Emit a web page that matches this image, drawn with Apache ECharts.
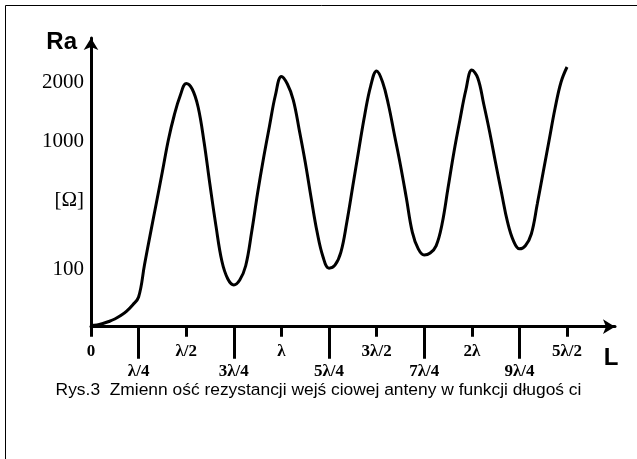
<!DOCTYPE html>
<html>
<head>
<meta charset="utf-8">
<script src="https://cdn.jsdelivr.net/npm/echarts@6/dist/echarts.min.js"></script>
<style>
html,body{margin:0;padding:0;background:#fff;}
#chart{width:637px;height:459px;}
</style>
</head>
<body>
<div id="chart"></div>
<script>
// Antenna length L in units of wavelength (λ), sampled every λ/32
var lengthL = [
  0, 0.03125, 0.0625, 0.09375, 0.125, 0.15625, 0.1875, 0.21875,
  0.25, 0.28125, 0.3125, 0.34375, 0.375, 0.40625, 0.4375, 0.46875,
  0.5, 0.53125, 0.5625, 0.59375, 0.625, 0.65625, 0.6875, 0.71875,
  0.75, 0.78125, 0.8125, 0.84375, 0.875, 0.90625, 0.9375, 0.96875,
  1, 1.03125, 1.0625, 1.09375, 1.125, 1.15625, 1.1875, 1.21875,
  1.25, 1.28125, 1.3125, 1.34375, 1.375, 1.40625, 1.4375, 1.46875,
  1.5, 1.53125, 1.5625, 1.59375, 1.625, 1.65625, 1.6875, 1.71875,
  1.75, 1.78125, 1.8125, 1.84375, 1.875, 1.90625, 1.9375, 1.96875,
  2, 2.03125, 2.0625, 2.09375, 2.125, 2.15625, 2.1875, 2.21875,
  2.25, 2.28125, 2.3125, 2.34375, 2.375, 2.40625, 2.4375, 2.46875,
  2.5];
// Input resistance Ra [Ω]
var resistanceRa = [
  41.3, 41.6, 42.6, 44.0, 45.8, 48.4, 52.0, 57.3,
  65.0, 109, 180, 293, 480, 794, 1182, 1613,
  1953, 1789, 1343, 769, 387, 202, 115, 86.6,
  78.8, 85.3, 107, 183, 341, 596, 992, 1626,
  2184, 1937, 1501, 931, 559, 315, 183, 123,
  103, 108, 133, 215, 381, 677, 1182, 1876,
  2384, 2000, 1386, 860, 533, 315, 183, 140,
  127, 131, 147, 208, 369, 656, 1092, 1761,
  2422, 2132, 1408, 902, 550, 341, 215, 159,
  140, 147, 177.5, 286, 477, 794, 1322, 2000,
  2540];

// Axis labels
var xMajorTicks = [0, 0.5, 1, 1.5, 2, 2.5];
var xMajorLabels = ['0', 'λ/2', 'λ', '3λ/2', '2λ', '5λ/2'];
var xMinorTicks = [0.25, 0.75, 1.25, 1.75, 2.25];
var xMinorLabels = ['λ/4', '3λ/4', '5λ/4', '7λ/4', '9λ/4'];
var yLabelValues = [100, 305, 774, 2000];
var yLabelTexts = ['100', '[Ω]', '1000', '2000'];

var captionText = 'Rys.3  Zmienn ość rezystancji wejś ciowej anteny w funkcji długoś ci';

function lookup(vals, texts, v, rel) {
  for (var i = 0; i < vals.length; i++) {
    var tol = rel ? Math.abs(vals[i]) * 1e-3 : 1e-6;
    if (Math.abs(vals[i] - v) <= tol) return texts[i];
  }
  return '';
}

var data = lengthL.map(function (x, i) { return [x, resistanceRa[i]]; });

var chart = echarts.init(document.getElementById('chart'), null, {renderer: 'canvas'});
var xMax = 2.752;
var option = {
  animation: false,
  backgroundColor: '#ffffff',
  title: {
    text: captionText,
    left: 'center',
    top: 382,
    padding: 0,
    textStyle: {fontFamily: 'Liberation Sans', fontSize: 17.4, fontWeight: 'normal', color: '#000'}
  },
  graphic: [{
    type: 'rect',
    shape: {x: 5.5, y: 5.5, width: 700, height: 500},
    style: {fill: 'none', stroke: '#000', lineWidth: 1},
    silent: true, z: -1
  }],
  grid: {left: 91, right: 22, top: 38, bottom: 132.3, containLabel: false},
  xAxis: [{
    type: 'value', min: 0, max: xMax, position: 'bottom',
    name: 'L', nameLocation: 'end', nameGap: -4,
    nameTextStyle: {fontFamily: 'Liberation Sans', fontWeight: 'bold', fontSize: 24, color: '#000',
      align: 'center', verticalAlign: 'top', padding: [20, 0, 0, 0]},
    axisLine: {show: true, lineStyle: {color: '#000', width: 3}, symbol: ['none', 'arrow'], symbolSize: [11, 12]},
    axisTick: {show: true, customValues: xMajorTicks, length: 10, lineStyle: {color: '#000', width: 3}},
    axisLabel: {show: true, customValues: xMajorTicks, margin: 16,
      fontFamily: 'Liberation Serif', fontWeight: 'bold', fontSize: 17, color: '#000',
      formatter: function (v) { return lookup(xMajorTicks, xMajorLabels, v, false); }},
    splitLine: {show: false}
  }, {
    type: 'value', min: 0, max: xMax, position: 'bottom', gridIndex: 0,
    axisLine: {show: false},
    axisTick: {show: true, customValues: xMinorTicks, length: 32, lineStyle: {color: '#000', width: 3}},
    axisLabel: {show: true, customValues: xMinorTicks, margin: 36,
      fontFamily: 'Liberation Serif', fontWeight: 'bold', fontSize: 17, color: '#000',
      formatter: function (v) { return lookup(xMinorTicks, xMinorLabels, v, false); }},
    splitLine: {show: false}
  }],
  yAxis: {
    type: 'log', logBase: 10, min: 40.5, max: 4033,
    name: 'Ra', nameLocation: 'end', nameGap: -4,
    nameTextStyle: {fontFamily: 'Liberation Sans', fontWeight: 'bold', fontSize: 24, color: '#000',
      align: 'right', verticalAlign: 'middle', padding: [0, 14, 0, 0]},
    axisLine: {show: true, lineStyle: {color: '#000', width: 3}, symbol: ['none', 'arrow'], symbolSize: [11, 12]},
    axisTick: {show: false},
    axisLabel: {show: true, customValues: yLabelValues, margin: 7, padding: [3, 0, 0, 0],
      fontFamily: 'Liberation Serif', fontSize: 21, color: '#000',
      formatter: function (v) { return lookup(yLabelValues, yLabelTexts, v, true); }},
    splitLine: {show: false}
  },
  series: [{
    type: 'line',
    xAxisIndex: 0, yAxisIndex: 0,
    data: data,
    smooth: 0.4,
    showSymbol: false,
    lineStyle: {color: '#000', width: 3},
    z: 3
  }]
};
chart.setOption(option);
</script>
</body>
</html>
